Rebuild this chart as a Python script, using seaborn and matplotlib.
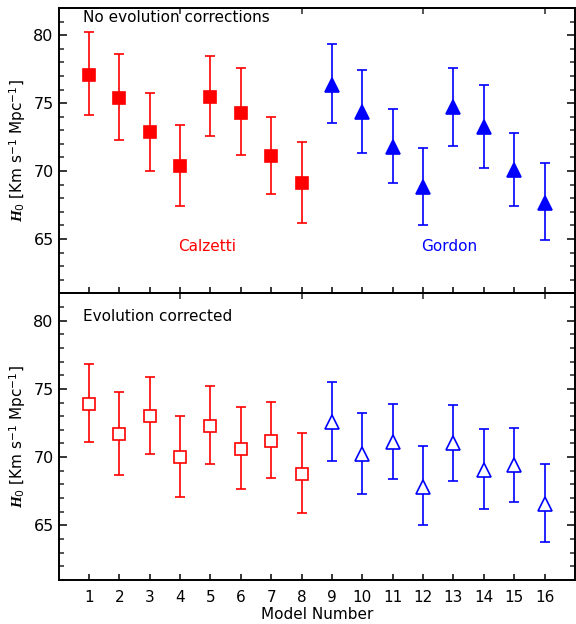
import numpy as np
import pandas as pd
import seaborn as sns
import matplotlib
matplotlib.use("Agg")
import matplotlib.pyplot as plt
from matplotlib.ticker import MultipleLocator, FixedLocator

models = list(range(1, 17))
calz_models = models[:8]
gord_models = models[8:]

# no evolution corrections (top panel)
calz_raw = [77.1, 75.35, 72.9, 70.4, 75.45, 74.3, 71.1, 69.1]
calz_raw_hi = [80.2, 78.65, 75.75, 73.4, 78.45, 77.55, 73.95, 72.15]
calz_raw_lo = [74.15, 72.25, 70.0, 67.4, 72.55, 71.2, 68.3, 66.2]
gord_raw = [76.35, 74.35, 71.75, 68.8, 74.7, 73.25, 70.05, 67.65]
gord_raw_hi = [79.35, 77.45, 74.55, 71.7, 77.6, 76.35, 72.8, 70.6]
gord_raw_lo = [73.5, 71.3, 69.1, 66.0, 71.85, 70.25, 67.4, 64.9]

# evolution corrected (bottom panel)
calz_evo = [73.9, 71.7, 73.0, 70.0, 72.3, 70.6, 71.2, 68.8]
calz_evo_hi = [76.8, 74.8, 75.9, 73.0, 75.2, 73.7, 74.05, 71.8]
calz_evo_lo = [71.1, 68.7, 70.2, 67.1, 69.5, 67.7, 68.5, 65.9]
gord_evo = [72.6, 70.25, 71.1, 67.8, 71.0, 69.05, 69.4, 66.6]
gord_evo_hi = [75.5, 73.2, 73.9, 70.8, 73.8, 72.05, 72.15, 69.5]
gord_evo_lo = [69.75, 67.3, 68.4, 65.0, 68.25, 66.2, 66.7, 63.8]

sns.set_theme(style="ticks")
plt.rcParams["font.family"] = ["DejaVu Sans"]
plt.rcParams["text.color"] = "black"
plt.rcParams["axes.labelcolor"] = "black"
plt.rcParams["mathtext.fontset"] = "custom"
plt.rcParams["mathtext.rm"] = "DejaVu Sans"
plt.rcParams["mathtext.it"] = "Liberation Serif:italic:bold"

fig = plt.figure(figsize=(5.76, 6.24), dpi=100)
left, right = 58.5 / 576, 575 / 576
top_ax = fig.add_axes([left, 1 - 293.3 / 624, right - left, (293.3 - 8) / 624])
bot_ax = fig.add_axes([left, 1 - 580 / 624, right - left, (580 - 293.3) / 624])


def draw(ax, xs, y, hi, lo, color, marker, filled):
    df = pd.DataFrame({"x": xs, "y": y, "hi": hi, "lo": lo})
    yerr = np.vstack([df["y"] - df["lo"], df["hi"] - df["y"]])
    ax.errorbar(df["x"], df["y"], yerr=yerr, fmt=marker, color=color,
                ecolor=color, elinewidth=1.2, capsize=3.4, capthick=1.2,
                markersize=8.6 if marker == "s" else 9.5,
                mfc=color if filled else "white", mec=color,
                mew=1.2, zorder=3)


def style_axis(ax):
    ax.set_xlim(0, 17)
    ax.set_ylim(61, 82)
    for sp in ax.spines.values():
        sp.set_visible(True)
        sp.set_linewidth(1.4)
        sp.set_color("black")
    ax.xaxis.set_major_locator(FixedLocator(models))
    ax.yaxis.set_major_locator(FixedLocator([65, 70, 75, 80]))
    ax.yaxis.set_minor_locator(MultipleLocator(1))
    ax.tick_params(axis="y", which="major", direction="in", length=6,
                   width=1.1, left=True, right=True, labelsize=11.5, pad=3.5,
                   colors="black")
    ax.tick_params(axis="y", which="minor", direction="in", length=3.5,
                   width=1.1, left=True, right=True)
    ax.tick_params(axis="x", which="major", direction="in", length=4,
                   width=1.1, top=False, bottom=True, labelsize=11, pad=7,
                   colors="black")
    sec = ax.secondary_xaxis("top")
    sec.set_xticks([4, 8, 12, 16])
    sec.tick_params(direction="in", length=4, width=1.1, labeltop=False)
    sec.spines["top"].set_linewidth(1.4)
    ax.set_ylabel(r"$H_0$ [Km s$^{-1}$ Mpc$^{-1}$]", fontsize=11)
    ax.yaxis.set_label_coords(-0.06, 0.5)
    ax.grid(False)


draw(top_ax, calz_models, calz_raw, calz_raw_hi, calz_raw_lo, "red", "s", True)
draw(top_ax, gord_models, gord_raw, gord_raw_hi, gord_raw_lo, "blue", "^", True)
draw(bot_ax, calz_models, calz_evo, calz_evo_hi, calz_evo_lo, "red", "s", False)
draw(bot_ax, gord_models, gord_evo, gord_evo_hi, gord_evo_lo, "blue", "^", False)

style_axis(top_ax)
style_axis(bot_ax)
top_ax.tick_params(axis="x", labelbottom=False)

top_ax.text(0.048, 0.966, "No evolution corrections", transform=top_ax.transAxes,
            ha="left", va="center", fontsize=11)
bot_ax.text(0.048, 0.918, "Evolution corrected", transform=bot_ax.transAxes,
            ha="left", va="center", fontsize=11)
top_ax.text(4.9, 64.45, "Calzetti", color="red", ha="center", va="center",
            fontsize=11)
top_ax.text(12.85, 64.45, "Gordon", color="blue", ha="center", va="center",
            fontsize=11)
bot_ax.set_xlabel("Model Number", fontsize=11, labelpad=1.5)

fig.savefig("out.png", dpi=100)
